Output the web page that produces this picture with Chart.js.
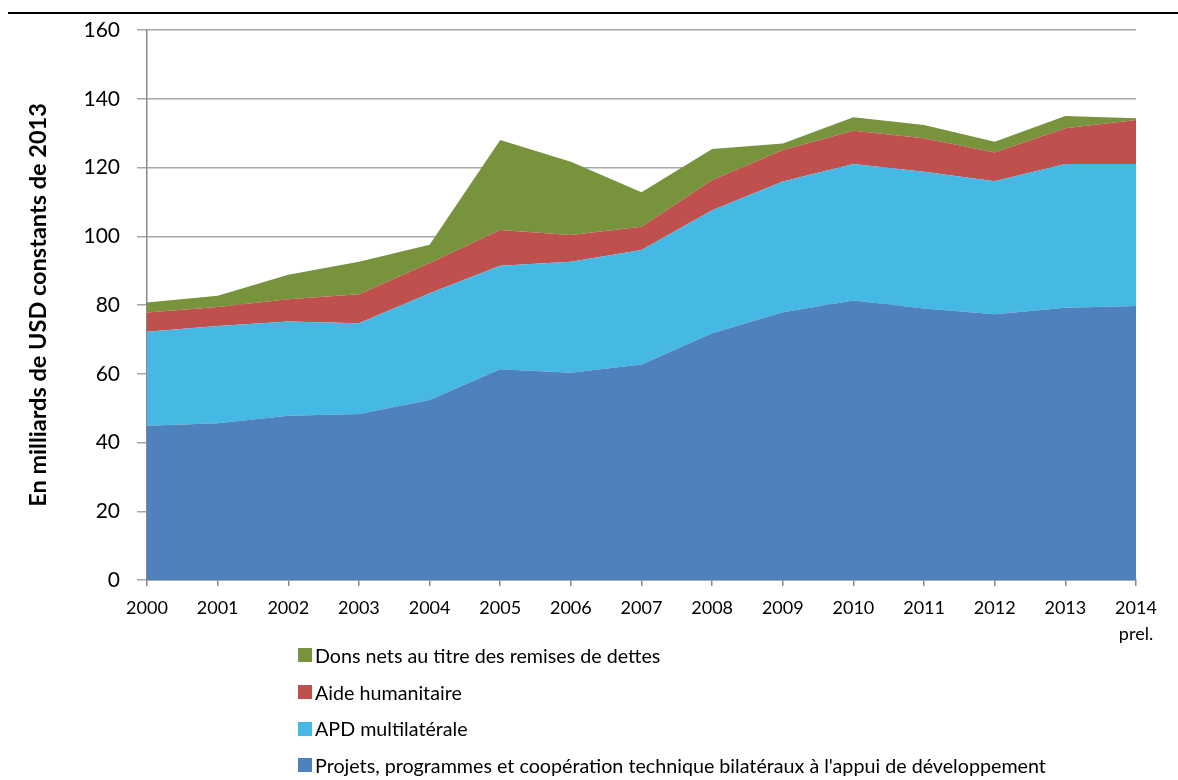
<!DOCTYPE html>
<html>
<head>
<meta charset="utf-8">
<script src="https://cdn.jsdelivr.net/npm/chart.js@4/dist/chart.umd.min.js"></script>
<style>
  html, body { margin: 0; padding: 0; background: #fff; }
  #wrap { position: relative; width: 1178px; height: 780px; overflow: hidden; }
  #topline { position: absolute; left: 8px; right: 0; top: 12px; height: 0; border-top: 2px solid #000; }
  #c { position: absolute; left: 0; top: 0; }
  #legend { position: absolute; left: 298px; top: 637px; font-family: Lato, "Liberation Sans", sans-serif; font-size: 19.7px; color: #000; }
  .item { display: flex; align-items: center; height: 36.7px; }
  .sw { width: 14px; height: 14px; margin-right: 3px; }
</style>
</head>
<body>
<div id="wrap">
  <div id="topline"></div>
  <canvas id="c" width="1178" height="660"></canvas>
  <div id="legend"></div>
</div>
<script>
const years = ['2000','2001','2002','2003','2004','2005','2006','2007','2008','2009','2010','2011','2012','2013',['2014','prel.']];
const bilateral    = [44.9,45.6,47.8,48.3,52.4,61.3,60.3,62.7,71.8,77.9,81.3,79.0,77.3,79.2,79.7];
const multilateral = [27.3,28.3,27.4,26.4,31.0,30.1,32.3,33.3,35.8,38.0,39.7,39.8,38.7,41.8,41.3];
const humanitaire  = [5.6,5.5,6.5,8.4,8.8,10.4,7.8,6.8,8.8,9.2,9.7,9.7,8.4,10.4,12.8];
const dettes       = [2.9,3.3,7.1,9.5,5.3,26.2,21.3,10.0,9.0,1.9,3.9,3.9,3.1,3.6,0.5];

const names = {
  bilateral: "Projets, programmes et coopération technique bilatéraux à l'appui de développement",
  multilateral: "APD multilatérale",
  humanitaire: "Aide humanitaire",
  dettes: "Dons nets au titre des remises de dettes"
};
const colors = { bilateral: '#4F81BD', multilateral: '#45B9E4', humanitaire: '#C0504D', dettes: '#77933C' };

function ds(label, data, color, fill) {
  return { label, data, backgroundColor: color, borderColor: color, borderWidth: 0, pointRadius: 0, fill, tension: 0 };
}

const chart = new Chart(document.getElementById('c'), {
  type: 'line',
  data: {
    labels: years,
    datasets: [
      ds(names.bilateral, bilateral, colors.bilateral, 'origin'),
      ds(names.multilateral, multilateral, colors.multilateral, '-1'),
      ds(names.humanitaire, humanitaire, colors.humanitaire, '-1'),
      ds(names.dettes, dettes, colors.dettes, '-1')
    ]
  },
  options: {
    responsive: false,
    animation: false,
    layout: { padding: { left: 24, right: 42, top: 30, bottom: 0 } },
    plugins: { legend: { display: false }, tooltip: { enabled: false } },
    scales: {
      x: {
        offset: false,
        grid: { drawOnChartArea: false, drawTicks: true, tickLength: 6, color: '#888', lineWidth: 1.5 },
        border: { color: '#888', width: 1.5 },
        ticks: { color: '#000', font: { family: 'Lato', size: 18, lineHeight: 1.45 }, maxRotation: 0, autoSkip: false, padding: 9 },
        afterFit: s => { s.height = 80; }
      },
      y: {
        stacked: true,
        min: 0, max: 160,
        ticks: { stepSize: 20, color: '#000', font: { family: 'Lato', size: 21 }, padding: 17 },
        grid: { color: '#a6a6a6', lineWidth: 1.5, drawTicks: true, tickLength: 10 },
        border: { color: '#888', width: 1.5 },
        title: { display: true, text: 'En milliards de USD constants de 2013', color: '#000', font: { family: 'Lato', size: 23.5, weight: 'bold' }, padding: 0 },
        afterFit: s => { s.width = 123; }
      }
    }
  }
});

const legend = document.getElementById('legend');
['dettes', 'humanitaire', 'multilateral', 'bilateral'].forEach(k => {
  const d = document.createElement('div'); d.className = 'item';
  const sw = document.createElement('span'); sw.className = 'sw'; sw.style.background = colors[k];
  const t = document.createElement('span'); t.textContent = names[k];
  d.appendChild(sw); d.appendChild(t); legend.appendChild(d);
});
</script>
</body>
</html>
